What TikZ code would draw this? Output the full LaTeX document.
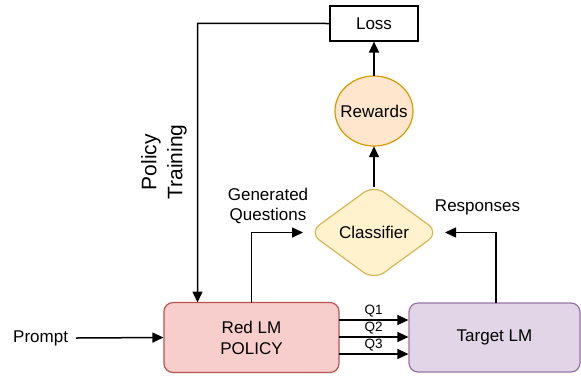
\documentclass[tikz,border=0pt]{standalone}
\usepackage{fontspec}
\setmainfont{Liberation Sans}
\usetikzlibrary{arrows.meta,shapes.geometric}
\definecolor{redfill}{HTML}{F8CECC}
\definecolor{redline}{HTML}{B85450}
\definecolor{purfill}{HTML}{E1D5E7}
\definecolor{purline}{HTML}{9673A6}
\definecolor{yelfill}{HTML}{FFF2CC}
\definecolor{yelline}{HTML}{D6B656}
\definecolor{orafill}{HTML}{FFE6CC}
\definecolor{oraline}{HTML}{D79B00}
\tikzset{
  lbl/.style={font=\fontsize{17}{20}\selectfont, align=center, inner sep=0pt},
  sml/.style={font=\fontsize{13.5}{15}\selectfont, inner sep=0pt},
  boxa/.style={draw, line width=1.2pt, rounded corners=9pt, font=\fontsize{17}{21}\selectfont, align=center, inner sep=0pt},
  arr/.style={line width=1.5pt, -{Triangle[length=11pt,width=10pt]}}
}
\begin{document}
\begin{tikzpicture}[x=1pt,y=-1pt]
\useasboundingbox (0,0) rectangle (581,376);
% nodes
\node[draw, line width=1.2pt, minimum width=88pt, minimum height=35pt, inner sep=0pt, font=\fontsize{17}{20}\selectfont] (loss) at (374,23.5) {Loss};
\draw[draw=oraline, fill=orafill, line width=1.2pt] (374,111) ellipse [x radius=39pt, y radius=35pt];
\node[minimum width=78pt, minimum height=70pt, inner sep=0pt, font=\fontsize{17}{20}\selectfont] (rew) at (374,111) {Rewards};
\coordinate (cT) at (374,185);
\coordinate (cB) at (374,280);
\coordinate (cL) at (309,232.5);
\coordinate (cR) at (439,232.5);
\draw[draw=yelline, fill=yelfill, line width=1.2pt, rounded corners=13pt] (cT) -- (cR) -- (cB) -- (cL) -- cycle;
\node[lbl] (cls) at (374,232.5) {Classifier};
\node[boxa, draw=redline, fill=redfill, minimum width=175pt, minimum height=70pt] (red) at (251.5,337.5) {Red LM\\POLICY};
\node[boxa, draw=purline, fill=purfill, minimum width=171pt, minimum height=69pt] (tgt) at (494.5,337.5) {Target LM};
\node[lbl, anchor=west] (prompt) at (13,338) {Prompt};
\node[font=\fontsize{21}{26}\selectfont, align=center, inner sep=0pt, rotate=90] (pt) at (164,162) {Policy\\Training};
\node[lbl] (gq) at (268,206) {Generated\\Questions};
\node[lbl] (resp) at (477.5,207) {Responses};
% connectors
\draw[arr] ([xshift=8pt]prompt.east) -- (red.west);
\draw[arr] ([yshift=-2pt]cT) -- (rew.south);
\draw[arr] (rew.north) -- (loss.south);
\coordinate (polcorner) at (197.5,23.3);
\coordinate (polend) at (197.5,302.5);
\draw[arr] (loss.west) -- (polcorner) -- (polend);
\coordinate (gqs) at (251.7,302.5);
\draw[arr] (gqs) |- ([xshift=-6pt]cL);
\coordinate (rs) at (496,303);
\draw[arr] (rs) |- ([xshift=6pt]cR);
\coordinate (q1) at (339,320);
\coordinate (q2) at (339,337);
\coordinate (q3) at (339,354);
\draw[arr] (q1) -- (q1-|tgt.west) node[sml, midway, above=2pt] (lq1) {Q1};
\draw[arr] (q2) -- (q2-|tgt.west) node[sml, midway, above=2pt] (lq2) {Q2};
\draw[arr] (q3) -- (q3-|tgt.west) node[sml, midway, above=2pt] (lq3) {Q3};
\end{tikzpicture}
\end{document}
